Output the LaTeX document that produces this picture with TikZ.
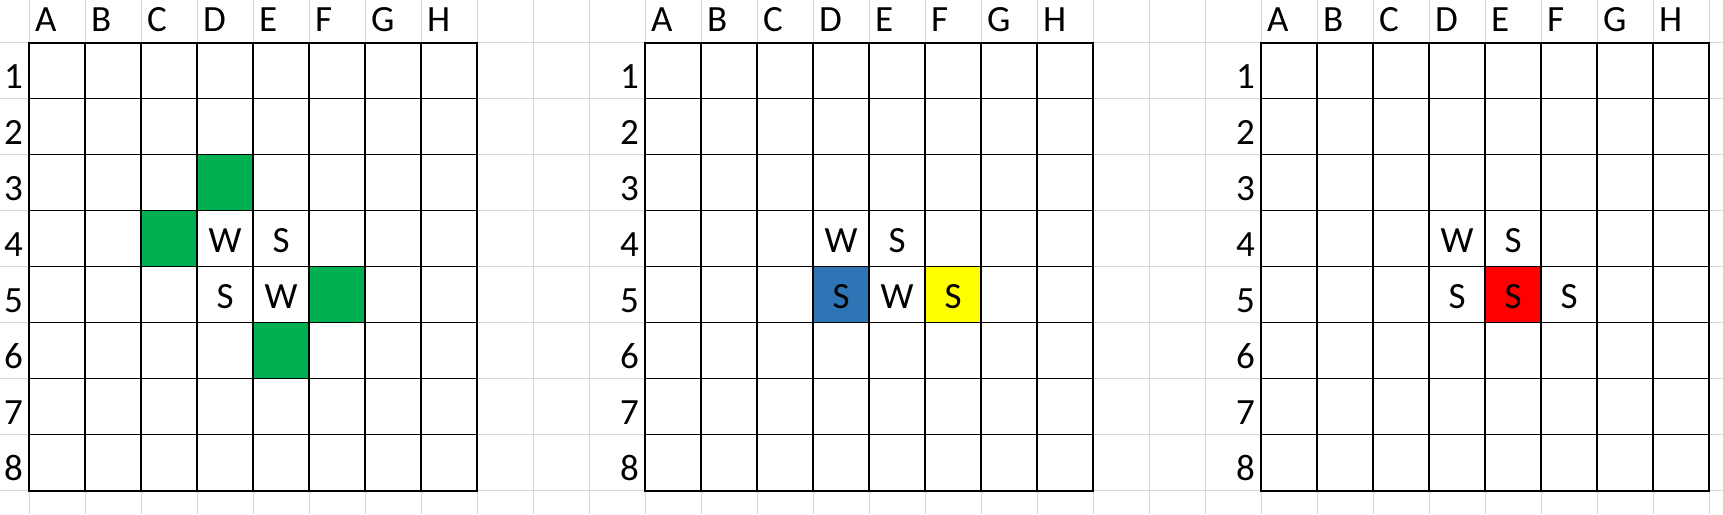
\documentclass[tikz,border=0pt]{standalone}
\usepackage{fontspec}
\setmainfont{Carlito}
\definecolor{xlgray}{HTML}{D6D6D6}
\definecolor{xlgreen}{HTML}{00B050}
\definecolor{xlblue}{HTML}{2E75B6}
\definecolor{xlyellow}{HTML}{FFFF00}
\definecolor{xlred}{HTML}{FF0000}
\tikzset{
  lbl/.style={font=\fontsize{37}{40}\selectfont, inner sep=0pt, text=black},
  bggrid/.style={draw=xlgray, line width=1pt},
  inner/.style={draw=black, line width=1.3pt},
  outer/.style={draw=black, line width=2.4pt}
}
\begin{document}
\begin{tikzpicture}[x=1pt,y=-1pt]
\useasboundingbox (0,0) rectangle (1723,514);
\fill[white] (0,0) rectangle (1723,514);
% spreadsheet background gridlines
\foreach \k in {0,...,30} \draw[bggrid] ({29+56*\k},0) -- ({29+56*\k},514);
\foreach \k in {0,...,8} \draw[bggrid] (0,{42.7+56*\k}) -- (1723,{42.7+56*\k});
% coloured cells
\foreach \g/\ox/\c/\r/\col in {1/29/3/2/xlgreen, 1/29/2/3/xlgreen, 1/29/5/4/xlgreen, 1/29/4/5/xlgreen,
  2/645/3/4/xlblue, 2/645/5/4/xlyellow, 3/1261/4/4/xlred}
  \fill[\col] ({\ox+56*\c},{42.7+56*\r}) rectangle ({\ox+56*(\c+1)},{42.7+56*(\r+1)});
% grids
\foreach \g/\ox in {1/29, 2/645, 3/1261} {
  \foreach \k in {1,...,7} {
    \draw[inner] ({\ox+56*\k},42.7) -- ({\ox+56*\k},490.7);
    \draw[inner] (\ox,{42.7+56*\k}) -- ({\ox+448},{42.7+56*\k});
  }
  \draw[outer] (\ox,42.7) rectangle ({\ox+448},490.7);
  \foreach \L [count=\i from 0] in {A,B,C,D,E,F,G,H}
    \node[lbl, anchor=base west] (g\g-h\L) at ({\ox+56*\i+6},31.5) {\L};
  \foreach \n in {1,...,8}
    \node[lbl, anchor=base east] (g\g-r\n) at ({\ox-6},{42.7+56*\n-10.5}) {\n};
}
% cell texts
\foreach \g/\ox/\c/\r/\t in {1/29/3/4/W, 1/29/4/4/S, 1/29/3/5/S, 1/29/4/5/W,
  2/645/3/4/W, 2/645/4/4/S, 2/645/3/5/S, 2/645/4/5/W, 2/645/5/5/S,
  3/1261/3/4/W, 3/1261/4/4/S, 3/1261/3/5/S, 3/1261/4/5/S, 3/1261/5/5/S}
  \node[lbl, anchor=base] (g\g-c\c-\r) at ({\ox+56*\c+28},{42.7+56*\r-14}) {\t};
\end{tikzpicture}
\end{document}
